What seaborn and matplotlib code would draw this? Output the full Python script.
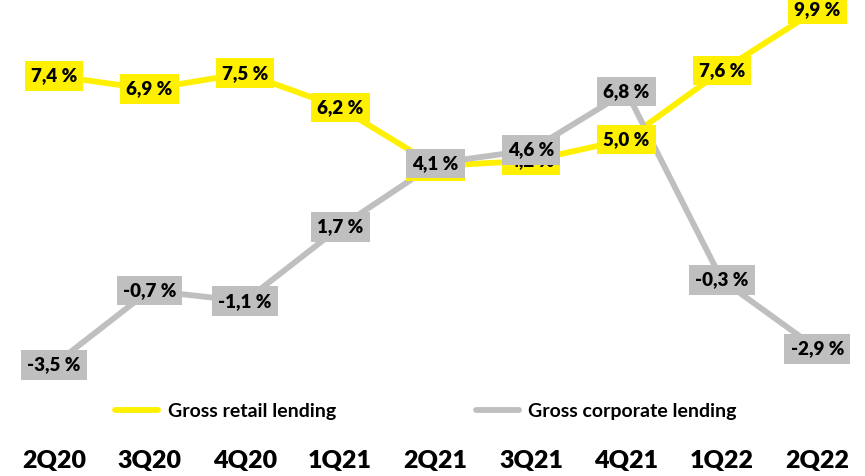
import matplotlib
matplotlib.use("Agg")
import matplotlib.pyplot as plt
import seaborn as sns
import pandas as pd
from matplotlib import font_manager

quarters = ["2Q20", "3Q20", "4Q20", "1Q21", "2Q21", "3Q21", "4Q21", "1Q22", "2Q22"]
retail = [7.4, 6.9, 7.5, 6.2, 4.0, 4.2, 5.0, 7.6, 9.9]
corporate = [-3.5, -0.7, -1.1, 1.7, 4.1, 4.6, 6.8, -0.3, -2.9]
series_names = ["Gross retail lending", "Gross corporate lending"]

YELLOW = "#FFF000"
GREY = "#BFBFBF"

sns.set_theme(style="white")
available = {f.name for f in font_manager.fontManager.ttflist}
label_font = ["Lato", "DejaVu Sans"] if "Lato" in available else ["DejaVu Sans"]
narrow_font = (["Liberation Sans Narrow", "DejaVu Sans"]
               if "Liberation Sans Narrow" in available else label_font)
plt.rcParams["font.family"] = label_font
plt.rcParams["text.color"] = "black"
plt.rcParams["xtick.color"] = "black"

df = pd.DataFrame({
    "quarter": list(range(len(quarters))) * 2,
    "value": retail + corporate,
    "series": [series_names[0]] * len(retail) + [series_names[1]] * len(corporate),
})

fig = plt.figure(figsize=(8.65, 4.76), dpi=100)
ax = fig.add_axes([0, 1 - 390 / 476, 1, 390 / 476])

sns.lineplot(data=df, x="quarter", y="value", hue="series",
             palette=[YELLOW, GREY], linewidth=4.2, ax=ax, legend=False,
             sort=False)

# value boxes: retail first, corporate on top
for vals, color in ((retail, YELLOW), (corporate, GREY)):
    for i, v in enumerate(vals):
        ax.text(i, v, f"{v:.1f} %".replace(".", ","), ha="center", va="center",
                fontsize=13.5, fontweight="heavy", color="black",
                bbox=dict(boxstyle="square,pad=0.33", fc=color, ec="none"),
                zorder=5)

ax.set_xlim(-0.566, 8.5)
ax.set_ylim(-4.45, 10.26)
ax.set_xticks(range(len(quarters)))
ax.set_xticklabels(quarters, fontsize=18, fontweight="heavy", family=narrow_font,
                   color="black")
ax.tick_params(axis="x", length=0, pad=43)
ax.set_yticks([])
ax.set_xlabel("")
ax.set_ylabel("")
for s in ax.spines.values():
    s.set_visible(False)

handles = [plt.Line2D([], [], color=YELLOW, lw=4.2),
           plt.Line2D([], [], color=GREY, lw=4.2)]
fig.legend(handles, series_names, loc="center", bbox_to_anchor=(426 / 865, 1 - 411 / 476),
           ncol=2, frameon=False, handlelength=2.2, handletextpad=0.5,
           columnspacing=7.2, prop=dict(size=14, weight="bold"))

fig.savefig("out.png", dpi=100)
